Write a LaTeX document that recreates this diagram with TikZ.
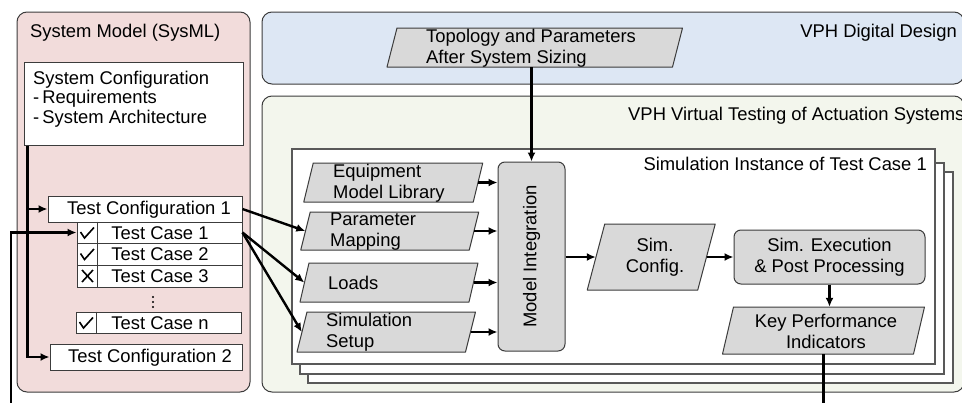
\documentclass[tikz,border=0pt]{standalone}
\usepackage{fontspec}
\setmainfont{Liberation Sans}
\usetikzlibrary{arrows.meta,calc}
\definecolor{pinkfill}{RGB}{242,220,219}
\definecolor{bluefill}{RGB}{221,231,244}
\definecolor{greenfill}{RGB}{243,246,237}
\definecolor{grayfill}{RGB}{217,217,217}
\definecolor{edgec}{RGB}{60,60,60}
\tikzset{
  txt/.style={inner sep=0pt, font=\fontsize{18.4}{21}\selectfont},
  group/.style={draw=edgec, line width=1pt, rounded corners=10pt},
  whitebox/.style={draw=edgec, fill=white, line width=1pt, inner sep=0pt},
  framebox/.style={draw=black!65, fill=white, line width=1.3pt},
  parashape/.style={draw=edgec, fill=grayfill, line width=1pt, line join=round},
  procbox/.style={draw=edgec, fill=grayfill, line width=1pt, rounded corners=7pt, inner sep=0pt},
  arr/.style={line width=2.4pt, -{Latex[length=9pt,width=8pt]}},
  wire/.style={line width=2.4pt},
  tickmark/.style={line width=1.6pt}
}
% name, cx, cy, mid width, height, slant
\newcommand\parash[6]{%
  \draw[parashape] ({#2-#4/2-#6/2},{#3+#5/2}) -- ({#2-#4/2+#6/2},{#3-#5/2}) -- ({#2+#4/2+#6/2},{#3-#5/2}) -- ({#2+#4/2-#6/2},{#3+#5/2}) -- cycle;
  \node[inner sep=0pt, minimum width=#4pt, minimum height=#5pt] (#1) at (#2,#3) {};
}
\begin{document}
\begin{tikzpicture}[x=1pt, y=-1pt]
\useasboundingbox (0,0) rectangle (962,402);
\clip (0,0) rectangle (962,402);

% ---------- group boxes ----------
\draw[group, fill=pinkfill] (17,12) rectangle (250,392);
\draw[group, fill=bluefill] (262,12) rectangle (964,84);
\draw[group, fill=greenfill] (262,96) rectangle (964,392);

\node[txt, anchor=west] (smtitle) at (30,33) {System Model (SysML)};
\node[txt, anchor=east] (ddtitle) at (957,33) {VPH Digital Design};
\node[txt, anchor=west] (vttitle) at (628,116) {VPH Virtual Testing of Actuation Systems};

% ---------- stacked simulation instances ----------
\draw[framebox] (308,172) rectangle (953,383);
\draw[framebox] (300,163) rectangle (944,374);
\draw[framebox] (292,149) rectangle (935,364);
\node[txt, anchor=east] (simtitle) at (927,164) {Simulation Instance of Test Case 1};

% ---------- system model column ----------
\node[whitebox, minimum width=219pt, minimum height=83pt] (sysconf) at (133.5,103.5) {};
\node[txt, anchor=west, align=left, font=\fontsize{18.4}{19.5}\selectfont] (sysconft) at (33,99)
  {System Configuration\\-\,Requirements\\-\,System Architecture};

\node[whitebox, minimum width=194pt, minimum height=26pt] (tcfg1) at (145,209) {};
\node[txt] (tcfg1t) at (149,209.5) {Test Configuration 1};

\node[whitebox, minimum width=165pt, minimum height=21pt] (tc1) at (159.5,232.5) {};
\node[whitebox, minimum width=165pt, minimum height=22pt] (tc2) at (159.5,254) {};
\node[whitebox, minimum width=165pt, minimum height=22pt] (tc3) at (159.5,276) {};
\node[whitebox, minimum width=165pt, minimum height=21pt] (tcn) at (158.5,322.5) {};
\foreach \n in {tc1,tc2,tc3,tcn}{
  \draw[line width=1pt, draw=edgec] ([xshift=21pt]\n.north west) -- ([xshift=21pt]\n.south west);
}
\node[txt] (tc1t) at (160,233) {Test Case 1};
\node[txt] (tc2t) at (160,254.5) {Test Case 2};
\node[txt] (tc3t) at (160,276.5) {Test Case 3};
\node[txt] (tcnt) at (160,323) {Test Case n};

% check marks and cross
\draw[tickmark] (80.5,232) -- (84.5,238) -- (94,227.5);
\draw[tickmark] (80.5,253.5) -- (84.5,259.5) -- (94,249);
\draw[tickmark] (82,270) -- (93,282) (93,270) -- (82,282);
\draw[tickmark] (79.5,322) -- (83.5,328) -- (93,317.5);

% vertical dots
\foreach \yy in {297,302,307} \fill (153,\yy) circle (1.1);

\node[whitebox, minimum width=192pt, minimum height=26pt] (tcfg2) at (146,357) {};
\node[txt] (tcfg2t) at (150,357.5) {Test Configuration 2};

% ---------- digital design ----------
\parash{topo}{534.75}{47.5}{285.5}{39}{10}
\node[txt, anchor=west, align=left] (topot) at (426,48.5) {Topology and Parameters\\After System Sizing};

% ---------- simulation instance content ----------
\parash{eq}{393.25}{182.5}{169.5}{39}{9.5}
\node[txt, anchor=west, align=left] (eqt) at (333,183) {Equipment\\Model Library};
\parash{pm}{389.75}{231}{168.5}{38}{9.5}
\node[txt, anchor=west, align=left] (pmt) at (330,231.5) {Parameter\\Mapping};
\parash{ld}{389}{282.5}{169}{39}{9}
\node[txt, anchor=west] (ldt) at (328,283) {Loads};
\parash{ss}{386.25}{332}{168.5}{40}{10}
\node[txt, anchor=west, align=left] (sst) at (326,332.5) {Simulation\\Setup};

\node[procbox, minimum width=67pt, minimum height=189pt] (mi) at (531.5,256.5) {};
\node[txt, rotate=90] (mit) at (531.5,256.5) {Model Integration};

\parash{sc}{651.25}{257}{110.5}{66}{17.5}
\node[txt, align=center] (sct) at (655,257.5) {Sim.\\Config.};

\node[procbox, minimum width=191pt, minimum height=54pt, align=center, txt] (se) at (829.5,257) {Sim. Execution\\\& Post Processing};

\parash{kpi}{823.5}{330.5}{191}{47}{11}
\node[txt, align=center] (kpit) at (826,331.5) {Key Performance\\Indicators};

% ---------- connectors ----------
\coordinate (trunk) at ([xshift=4pt]sysconf.south west);
\draw[arr] (trunk) |- (tcfg1.west);
\draw[arr] (trunk) |- (tcfg2.west);

\coordinate (fbin) at (11,406);
\draw[arr] (fbin) |- (tc1.west);

\draw[arr] (tcfg1.east) -- (pm.west);
\draw[arr] (tc1.east) -- (ld.west);
\draw[arr] (tc1.east) -- (ss.west);

\draw[arr] (mi.north |- topo.south) -- (mi.north);

\draw[arr] (eq.east) -- (eq.east -| mi.west);
\draw[arr] (pm.east) -- (pm.east -| mi.west);
\draw[arr] (ld.east) -- (ld.east -| mi.west);
\draw[arr] (ss.east) -- (ss.east -| mi.west);

\draw[arr] (mi.east |- sc.west) -- (sc.west);
\draw[arr] (sc.east) -- (se.west);
\draw[arr] (se.south) -- (se.south |- kpi.north);

\coordinate (kpiout) at (823.5,406);
\draw[wire] (kpi.south) -- (kpiout);
\end{tikzpicture}
\end{document}
